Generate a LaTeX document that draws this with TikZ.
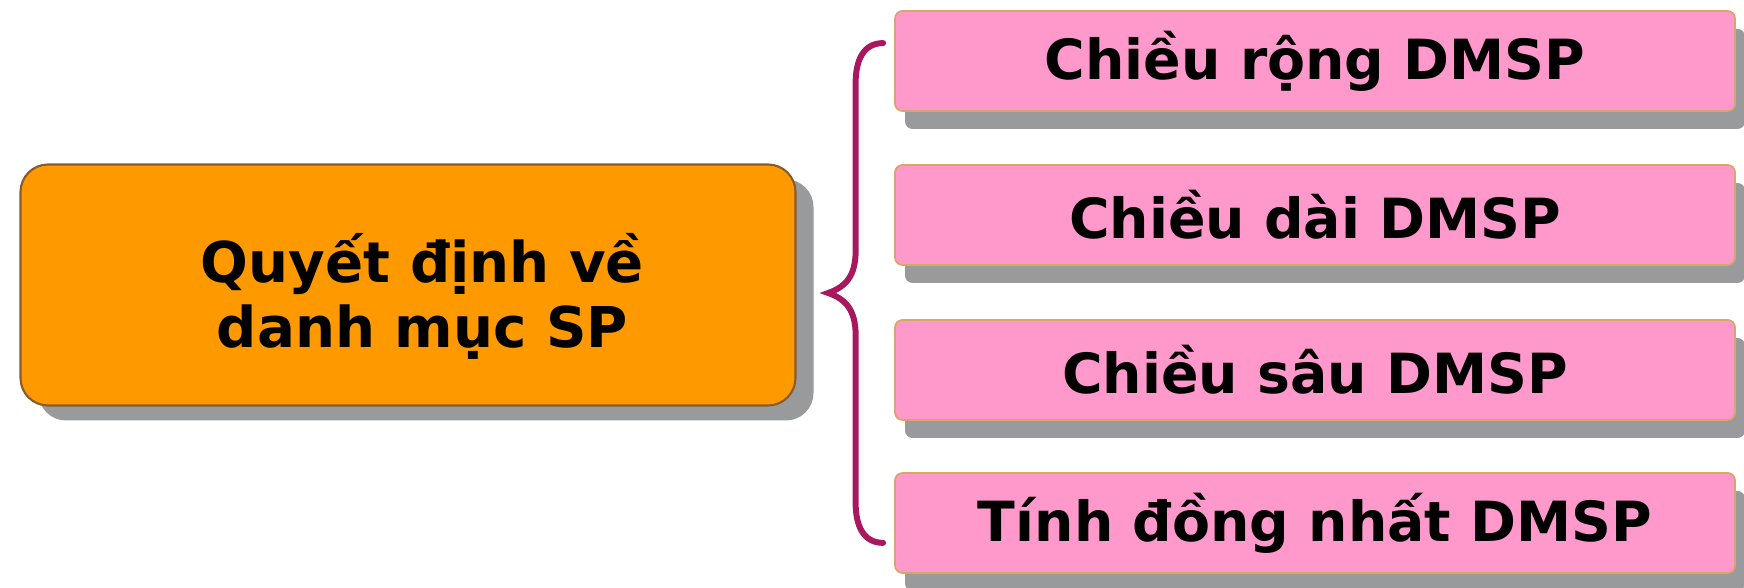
\documentclass[tikz,border=0pt]{standalone}
\usepackage{fontspec}
\setmainfont{DejaVu Sans}
\usetikzlibrary{shadows,calc}

\definecolor{camfill}{HTML}{FF9900}
\definecolor{camvien}{HTML}{8B5A2B}
\definecolor{hongfill}{HTML}{FF99CC}
\definecolor{hongvien}{HTML}{D9A66A}
\definecolor{bong}{HTML}{989A9C}
\definecolor{ngoac}{HTML}{A8185E}

\begin{document}
\begin{tikzpicture}[
  chinh/.style={draw=camvien, line width=1.2pt, fill=camfill,
    rounded corners=0.55cm, minimum width=15.5cm, minimum height=4.82cm,
    drop shadow={shadow xshift=0.36cm, shadow yshift=-0.3cm, fill=bong, opacity=1}},
  chu/.style={align=center, font=\bfseries\fontsize{32}{37}\selectfont},
  muc/.style={draw=hongvien, line width=1pt, fill=hongfill,
    rounded corners=0.15cm, minimum width=16.8cm, minimum height=2cm,
    font=\bfseries\fontsize{31.5}{36}\selectfont,
    drop shadow={shadow xshift=0.2cm, shadow yshift=-0.36cm, fill=bong, opacity=1}},
  ngoacnhon/.style={draw=ngoac, line width=3.4pt, line cap=round}
]

\useasboundingbox (0,0) rectangle (34.88,11.76);

% O chinh
\node[chinh] (qd) at (8.16,6.06) {};
\node[chu] (qdchu) at ([xshift=0.29cm,yshift=-0.22cm]qd.center)
{Quyết định về\\danh mục SP};

% Cac muc
\node[muc] (rong) at (26.3,10.54) {Chiều rộng DMSP};
\node[muc] (dai) at (26.3,7.46) {Chiều dài DMSP};
\node[muc] (sau) at (26.3,4.36) {Chiều sâu DMSP};
\node[muc] (dong) at (26.3,1.3) {Tính đồng nhất DMSP};

% Ngoac
\coordinate (ngtren) at ([xshift=-0.22cm,yshift=-0.66cm]rong.north west);
\coordinate (ngduoi) at ([xshift=-0.22cm,yshift=0.62cm]dong.south west);
\coordinate (ngmui) at ([xshift=-1.1cm]$(ngtren)!0.5!(ngduoi)$);
\draw[ngoacnhon] (ngtren)
  .. controls +(-0.4,0) and +(0,0.45) .. ([xshift=-0.55cm,yshift=-0.8cm]ngtren)
  -- ([xshift=0.55cm,yshift=0.84cm]ngmui)
  .. controls +(0,-0.5) and +(0.35,0.12) .. (ngmui)
  .. controls +(0.35,-0.12) and +(0,0.5) .. ([xshift=0.55cm,yshift=-0.84cm]ngmui)
  -- ([xshift=-0.55cm,yshift=0.8cm]ngduoi)
  .. controls +(0,-0.45) and +(-0.4,0) .. (ngduoi);

\end{tikzpicture}
\end{document}
